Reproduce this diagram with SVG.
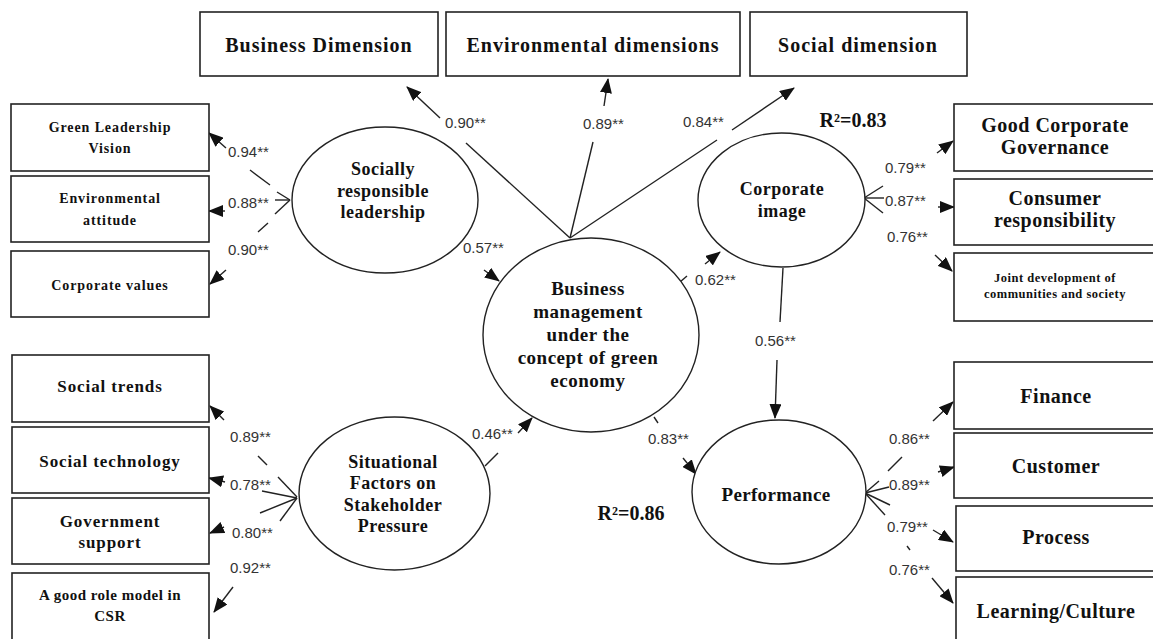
<svg xmlns="http://www.w3.org/2000/svg" width="1153" height="639" viewBox="0 0 1153 639">
<style>
.box{fill:#fff;stroke:#222;stroke-width:1.6}
.ell{fill:#fff;stroke:#222;stroke-width:1.4}
.t{font-family:"Liberation Serif","Times New Roman",serif;font-weight:bold;fill:#111;text-anchor:middle}
.top{font-size:20px;letter-spacing:1px}
.nd{font-size:18px;letter-spacing:0.5px}
.rb{font-size:20px;letter-spacing:0.5px}
.sm{font-size:14px;letter-spacing:0.9px}
.md{font-size:17px;letter-spacing:0.9px}
.r2{font-size:20px}
.c{font-family:"Liberation Sans",Arial,sans-serif;font-size:15px;fill:#333}
.ln{stroke:#222;stroke-width:1.4;fill:none}
.ar{marker-end:url(#ah)}
</style>
<defs>
<marker id="ah" markerWidth="15" markerHeight="12" refX="14" refY="6" orient="auto" markerUnits="userSpaceOnUse">
<path d="M0,0 L15,6 L0,12 z" fill="#111"/>
</marker>
</defs>
<rect width="1153" height="639" fill="#fff"/>

<g id="connectors">
<line class="ln" x1="570" y1="238" x2="466" y2="143"/>
<line class="ln ar" x1="440" y1="118" x2="407" y2="87"/>
<line class="ln" x1="570" y1="238" x2="593" y2="142"/>
<line class="ln ar" x1="604" y1="106" x2="608" y2="79"/>
<line class="ln" x1="570" y1="238" x2="717" y2="140"/>
<line class="ln ar" x1="732" y1="130" x2="794" y2="88"/>
<line class="ln" x1="290" y1="200" x2="277" y2="192"/>
<line class="ln" x1="270" y1="185" x2="250" y2="170"/>
<line class="ln ar" x1="226" y1="148" x2="209" y2="133"/>
<line class="ln" x1="290" y1="200" x2="275" y2="200"/>
<line class="ln ar" x1="225" y1="211" x2="209" y2="211"/>
<line class="ln" x1="290" y1="200" x2="275" y2="214"/>
<line class="ln" x1="268" y1="223" x2="258" y2="232"/>
<line class="ln ar" x1="226" y1="270" x2="210" y2="284"/>
<line class="ln ar" x1="484" y1="270" x2="499" y2="281"/>
<line class="ln" x1="680" y1="282" x2="687" y2="276"/>
<line class="ln ar" x1="705" y1="264" x2="720" y2="252"/>
<line class="ln" x1="783" y1="268" x2="780" y2="322"/>
<line class="ln ar" x1="777" y1="360" x2="775" y2="418"/>
<line class="ln" x1="654" y1="417" x2="658" y2="423"/>
<line class="ln ar" x1="683" y1="458" x2="696" y2="474"/>
<line class="ln" x1="485" y1="466" x2="498" y2="453"/>
<line class="ln ar" x1="518" y1="433" x2="532" y2="418"/>
<line class="ln" x1="297" y1="497" x2="278" y2="477"/>
<line class="ln" x1="267" y1="465" x2="258" y2="456"/>
<line class="ln ar" x1="224" y1="420" x2="210" y2="406"/>
<line class="ln" x1="297" y1="498" x2="262" y2="491"/>
<line class="ln ar" x1="225" y1="482" x2="209" y2="478"/>
<line class="ln" x1="297" y1="498" x2="260" y2="513"/>
<line class="ln ar" x1="224" y1="527" x2="210" y2="533"/>
<line class="ln" x1="297" y1="498" x2="280" y2="521"/>
<line class="ln ar" x1="233" y1="587" x2="214" y2="612"/>
<line class="ln" x1="864" y1="198" x2="883" y2="186"/>
<line class="ln ar" x1="937" y1="153" x2="953" y2="141"/>
<line class="ln" x1="864" y1="198" x2="884" y2="198"/>
<line class="ln ar" x1="938" y1="207" x2="954" y2="207"/>
<line class="ln" x1="864" y1="198" x2="883" y2="213"/>
<line class="ln ar" x1="935" y1="255" x2="952" y2="271"/>
<line class="ln" x1="865" y1="493" x2="879" y2="481"/>
<line class="ln" x1="888" y1="471" x2="902" y2="457"/>
<line class="ln ar" x1="933" y1="421" x2="953" y2="402"/>
<line class="ln" x1="865" y1="493" x2="889" y2="487"/>
<line class="ln ar" x1="938" y1="472" x2="954" y2="467"/>
<line class="ln" x1="865" y1="493" x2="890" y2="505"/>
<line class="ln ar" x1="933" y1="530" x2="953" y2="542"/>
<line class="ln" x1="865" y1="493" x2="885" y2="515"/>
<line class="ln" x1="907" y1="546" x2="910" y2="550"/>
<line class="ln ar" x1="932" y1="578" x2="953" y2="603"/>
<text class="c" x="445" y="128">0.90**</text>
<text class="c" x="583" y="129">0.89**</text>
<text class="c" x="683" y="127">0.84**</text>
<text class="c" x="228" y="157">0.94**</text>
<text class="c" x="228" y="208">0.88**</text>
<text class="c" x="228" y="255">0.90**</text>
<text class="c" x="463" y="253">0.57**</text>
<text class="c" x="695" y="285">0.62**</text>
<text class="c" x="755" y="346">0.56**</text>
<text class="c" x="648" y="444">0.83**</text>
<text class="c" x="472" y="439">0.46**</text>
<text class="c" x="230" y="442">0.89**</text>
<text class="c" x="230" y="490">0.78**</text>
<text class="c" x="232" y="538">0.80**</text>
<text class="c" x="230" y="573">0.92**</text>
<text class="c" x="885" y="173">0.79**</text>
<text class="c" x="885" y="206">0.87**</text>
<text class="c" x="887" y="242">0.76**</text>
<text class="c" x="889" y="444">0.86**</text>
<text class="c" x="889" y="490">0.89**</text>
<text class="c" x="887" y="532">0.79**</text>
<text class="c" x="889" y="575">0.76**</text>
<text class="t r2" x="853" y="127">R²=0.83</text>
<text class="t r2" x="631" y="520">R²=0.86</text>
</g>

<g id="business-dimension">
<rect class="box" x="200" y="12" width="238" height="64"/>
<text class="t top" x="319" y="52">Business Dimension</text>
</g>
<g id="environmental-dimensions">
<rect class="box" x="446" y="12" width="294" height="64"/>
<text class="t top" x="593" y="52">Environmental dimensions</text>
</g>
<g id="social-dimension">
<rect class="box" x="750" y="12" width="217" height="64"/>
<text class="t top" x="858" y="52">Social dimension</text>
</g>

<g id="green-leadership-vision">
<rect class="box" x="11" y="104" width="198" height="67"/>
<text class="t sm" x="110" y="132">Green Leadership</text>
<text class="t sm" x="110" y="153">Vision</text>
</g>
<g id="environmental-attitude">
<rect class="box" x="11" y="176" width="198" height="66"/>
<text class="t sm" x="110" y="203">Environmental</text>
<text class="t sm" x="110" y="225">attitude</text>
</g>
<g id="corporate-values">
<rect class="box" x="11" y="251" width="198" height="66"/>
<text class="t sm" x="110" y="290">Corporate values</text>
</g>

<g id="social-trends">
<rect class="box" x="12" y="355" width="197" height="67"/>
<text class="t md" x="110" y="392">Social trends</text>
</g>
<g id="social-technology">
<rect class="box" x="12" y="427" width="197" height="66"/>
<text class="t md" x="110" y="467">Social technology</text>
</g>
<g id="government-support">
<rect class="box" x="12" y="498" width="197" height="66"/>
<text class="t md" x="110" y="527">Government</text>
<text class="t md" x="110" y="548">support</text>
</g>
<g id="role-model-csr">
<rect class="box" x="12" y="573" width="197" height="75"/>
<text class="t" style="font-size:15px;letter-spacing:0.5px" x="110" y="600">A good role model in</text>
<text class="t" style="font-size:15px;letter-spacing:0.5px" x="110" y="621">CSR</text>
</g>

<g id="good-corporate-governance">
<rect class="box" x="954" y="104" width="210" height="67"/>
<text class="t rb" x="1055" y="132">Good Corporate</text>
<text class="t rb" x="1055" y="154">Governance</text>
</g>
<g id="consumer-responsibility">
<rect class="box" x="954" y="179" width="210" height="66"/>
<text class="t rb" x="1055" y="205">Consumer</text>
<text class="t rb" x="1055" y="227">responsibility</text>
</g>
<g id="joint-development">
<rect class="box" x="954" y="253" width="210" height="68"/>
<text class="t" style="font-size:12.5px;letter-spacing:0.5px" x="1055" y="282">Joint development of</text>
<text class="t" style="font-size:12.5px;letter-spacing:0.5px" x="1055" y="298">communities and society</text>
</g>

<g id="finance">
<rect class="box" x="954" y="362" width="210" height="67"/>
<text class="t rb" x="1056" y="403">Finance</text>
</g>
<g id="customer">
<rect class="box" x="954" y="433" width="210" height="65"/>
<text class="t rb" x="1056" y="473">Customer</text>
</g>
<g id="process">
<rect class="box" x="956" y="506" width="208" height="65"/>
<text class="t rb" x="1056" y="544">Process</text>
</g>
<g id="learning-culture">
<rect class="box" x="956" y="577" width="208" height="70"/>
<text class="t rb" x="1056" y="618">Learning/Culture</text>
</g>

<g id="socially-responsible-leadership">
<ellipse class="ell" cx="385" cy="200" rx="93" ry="73"/>
<text class="t nd" x="383" y="175">Socially</text>
<text class="t nd" x="383" y="197">responsible</text>
<text class="t nd" x="383" y="218">leadership</text>
</g>
<g id="business-management">
<ellipse class="ell" cx="591" cy="335" rx="108" ry="97"/>
<text class="t" style="font-size:19px;letter-spacing:0.5px" x="588" y="295">Business</text>
<text class="t" style="font-size:19px;letter-spacing:0.5px" x="588" y="318">management</text>
<text class="t" style="font-size:19px;letter-spacing:0.5px" x="588" y="341">under the</text>
<text class="t" style="font-size:19px;letter-spacing:0.5px" x="588" y="364">concept of green</text>
<text class="t" style="font-size:19px;letter-spacing:0.5px" x="588" y="387">economy</text>
</g>
<g id="corporate-image">
<ellipse class="ell" cx="781.5" cy="200" rx="83.5" ry="67"/>
<text class="t nd" x="782" y="195">Corporate</text>
<text class="t nd" x="782" y="217">image</text>
</g>
<g id="performance">
<ellipse class="ell" cx="779" cy="492" rx="87" ry="72"/>
<text class="t" style="font-size:19px;letter-spacing:0.3px" x="776" y="501">Performance</text>
</g>
<g id="situational-factors">
<ellipse class="ell" cx="394.5" cy="493.5" rx="95.5" ry="76.5"/>
<text class="t nd" x="393" y="468">Situational</text>
<text class="t nd" x="393" y="489">Factors on</text>
<text class="t nd" x="393" y="511">Stakeholder</text>
<text class="t nd" x="393" y="532">Pressure</text>
</g>
</svg>
